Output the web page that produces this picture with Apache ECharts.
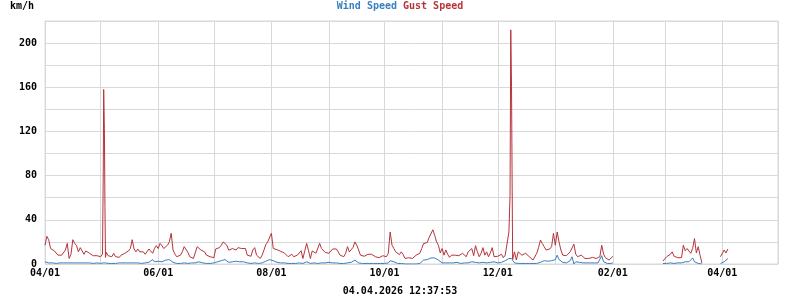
<!DOCTYPE html>
<html>
<head>
<meta charset="utf-8">
<script src="https://cdn.jsdelivr.net/npm/echarts@6/dist/echarts.min.js"></script>
<style>html,body{margin:0;padding:0;background:#fff}#c{width:800px;height:300px}</style>
</head>
<body>
<div id="c"></div>
<script>
// Daily values starting 2025-04-01 (index = day offset)
const startDate = [2025, 3, 1];
const gust = [
17,25,22,14,13.6,12,10.6,8,9.7,8,
9.7,12.7,18.7,5,8.8,22,18.7,16.6,11,14.8,
15.7,8.8,11.8,13.6,9.7,11,7.5,8.8,7.5,5.7,
6.6,9,123,10.6,7.5,8,6.6,9.7,6.6,8,
6,8,6.6,9.7,8.8,11.8,14,22,13.6,11,
13.6,11,12.7,11,8.8,10.6,13.6,12,9.7,14,
16.6,14,18.7,16.6,14,15.7,17,20,27.8,12.7,
9,6.6,5,8,11,15.7,15.7,10.6,6.6,5.7,
5,6.6,15.7,16.6,12.7,14,11,8,6.6,6.6,
5.7,5.7,13.6,14,14.8,17,20,21.7,17,12.5,
11,14,13.2,12.7,14.8,14.8,14,12.7,14,8,
9.7,7,12.7,14.8,8,6.6,5,8,12.7,17.5,
20,18.5,27.8,14,13.6,13,12.5,11.5,11,10,
8.5,6.6,7.5,8.8,6.6,6.6,8,10,12,5,
12,18.7,12,5,11.8,13.6,9.7,8.8,18.7,14,
12.7,10.5,11,9.7,8.5,13.6,14,13.6,11,8,
6.6,6.6,9.7,15.7,11,12.7,15,20,17,12.7,
8,6.6,7,6.6,8.8,9.7,8.8,8.8,6.6,7.5,
5.7,6.6,7.5,6.6,6.6,9.7,29,17,14,11,
9.7,8.5,11,8.5,5,5,5.7,6.6,5,6.6,
8,6.6,9.7,14,18.5,18,19.5,24,23,31,
26,20,17,10,14,8,12.7,8.8,6,8,
6.6,8,8.8,7.5,6,9.7,8.8,6.6,11,10,
14,7.5,16.6,11,6.6,9.7,14.8,8,11,6.6,
10,14.8,6.6,7.5,7,6.6,8.8,5.7,8,9.7,
29,212,4,11,3.6,11,9.7,8,8.8,9.7,
9.7,6.6,8,3.6,5,9.7,15,21.7,18.5,15.7,
12.7,14,13.6,15.7,27.8,17,29,20,12.7,8,
6.6,7.5,8.8,11,12,18,9,6.6,7,8,
6.6,5,6.6,5,5.7,6,6.6,5,3.6,6.6,
17,9,5.7,4.5,3.6,5,7,
null,null,null,null,null,null,null,null,null,null,null,null,null,
null,null,null,null,null,null,null,null,null,null,null,null,null,
2.7,3.6,6.6,5.5,8.8,11,7,
6.6,5.7,6.6,5.7,17,12,14,15,9.7,14,
23,10,15.7,8,1,
null,null,null,null,null,null,null,null,null,
6.6,7,12.7,10,13.6
];
const wind = [
2,1.5,1,1,1,1,0.5,0.5,1,1,
1,1.5,1,0.5,1,1.5,1,1,1,1.5,
1,1,1,0.5,1,1,0.5,0.5,1,0.5,
0.5,1,1.5,1,0.5,1,0.5,1,0.5,1,
1,0.5,1,1,1,1.5,1,1.5,1,1,
1,1,0.5,1,1,1,1.5,3,4,2,
2,2.5,3,2,2.5,3.5,4,4,4,1.5,
1,0.5,0.5,0.5,1,1,1,0.5,1,1,
1,1,1.5,2,1.5,1,0.5,0.5,0.5,0.5,
0.5,1,1.5,2,2.5,3,3.5,4,2.5,1.5,
1.5,2,2.5,2.5,2.5,2,2.5,2,1.5,1,
1,0.5,1,1,0.5,0.5,0.5,1,1.5,2.5,
3.5,4,5,3,2,1.5,1,1,1,1,
0.5,0.5,0.5,0.5,0.5,0.5,0.5,1,1,0.5,
1,2,1,0.5,0.5,1,0.5,0.5,1.5,1,
1,1,1,1.5,1.5,1,1,1,0.5,0.5,
0.5,0.5,0.5,1,1,1.5,2.5,3.5,2,1,
0.5,0.5,0.5,0.5,0.5,0.5,0.5,0.5,0.5,0.5,
0.5,0.5,0.5,0.5,0.5,1,3,3.5,2,1,
0.5,0.5,0.5,0.5,0,0,0,0,0,0,
0,0,0.5,2,3.5,3.5,4,4.5,5.5,6.6,
5.5,4,3.5,2,1,1,1,1.5,1,0.5,
1,1,1.5,1,0.5,1,1,1.5,1,1.5,
2,1.5,1.5,1,1,1.5,1.5,2,1,1,
1.5,2,2,1.5,1,1,1.5,2,3,4,
5,5.7,4,1,0.5,0.5,0.5,0.5,0.5,0.5,
0.5,0.5,0.5,0.5,0.5,0.5,1,1.5,2.5,3,
2.5,2.5,3,3,3.5,4,8,4,2.5,1.5,
1,1,1.5,3,6.6,0,2,2,1.5,1,
1,1,1,1,1,1.5,1,0.5,1,2,
7.5,2,0.5,0.5,0.5,0.5,1,
null,null,null,null,null,null,null,null,null,null,null,null,null,
null,null,null,null,null,null,null,null,null,null,null,null,null,
0.5,0.5,0.5,0.5,1,1,0.5,
0.5,1,1,1,1.5,2,2,2,2,5.5,
2,0.5,0.5,0.5,0,
null,null,null,null,null,null,null,null,null,
0.5,1,2,3,5
];
// Extra sub-daily readings around the two storm spikes (day offsets)
const extraDays = [31.4, 31.62, 32.3, 32.6, 250.6, 251.4];
const extraGust = [85, 158, 52, 6, 62, 161];
const extraWind = [1, 1.5, 1.5, 1, 5.5, 5];

const yTicksLabelEvery = 40;
const titleText = 'km/h';
const stampText = '04.04.2026 12:37:53';

const DAY = 86400000;
const t0 = new Date(startDate[0], startDate[1], startDate[2]).getTime();
function build(daily, extra) {
  const pts = daily.map((v, i) => [t0 + i * DAY, v]);
  extraDays.forEach((d, i) => pts.push([t0 + d * DAY, extra[i]]));
  pts.sort((a, b) => a[0] - b[0]);
  return pts;
}
const FONT = '"DejaVu Sans Mono", monospace';
const BLUE = '#3a7fbf';
const RED = '#b5343c';
const chart = echarts.init(document.getElementById('c'), null, {renderer: 'canvas'});
chart.setOption({
  animation: false,
  backgroundColor: '#fff',
  grid: {left: 45, right: 22, top: 21, bottom: 36, show: true, borderColor: '#d9d9d9', borderWidth: 1},
  xAxis: {
    type: 'time',
    min: t0,
    max: new Date(2026, 4, 1).getTime(),
    minInterval: 28 * DAY,
    maxInterval: 31 * DAY,
    axisLine: {show: false},
    axisTick: {show: false},
    splitLine: {show: true, lineStyle: {color: '#d9d9d9', width: 1}},
    axisLabel: {
      margin: 4,
      fontFamily: FONT, fontWeight: 'bold', fontSize: 10, color: '#000',
      hideOverlap: false,
      formatter: function (val) {
        const d = new Date(val);
        const m = d.getMonth();
        if (d.getDate() !== 1 || m % 2 !== 1) return '';
        const mm = String(m + 1).padStart(2, '0');
        return mm + '/01';
      }
    }
  },
  yAxis: {
    type: 'value', min: 0, max: 220, interval: 20,
    axisLine: {show: false},
    axisTick: {show: false},
    splitLine: {show: true, lineStyle: {color: '#d9d9d9', width: 1}},
    axisLabel: {
      margin: 8,
      fontFamily: FONT, fontWeight: 'bold', fontSize: 10, color: '#000',
      formatter: function (v) { return v % yTicksLabelEvery === 0 ? String(v) : ''; }
    }
  },
  series: [
    {name: 'Gust Speed', type: 'line', data: build(gust, extraGust), showSymbol: false, symbol: 'none',
     connectNulls: false, lineStyle: {color: RED, width: 1}, itemStyle: {color: RED}},
    {name: 'Wind Speed', type: 'line', data: build(wind, extraWind), showSymbol: false, symbol: 'none',
     connectNulls: false, lineStyle: {color: BLUE, width: 1}, itemStyle: {color: BLUE}}
  ],
  graphic: [
    {type: 'text', x: 10, y: 6, style: {text: titleText, font: 'bold 10px ' + FONT, fill: '#000', verticalAlign: 'middle'}},
    {type: 'text', x: 400, y: 6, style: {
      text: '{a|Wind Speed} {b|Gust Speed}', align: 'center', verticalAlign: 'middle',
      font: 'bold 10px ' + FONT,
      rich: {a: {fill: BLUE, color: BLUE, fontFamily: FONT, fontWeight: 'bold', fontSize: 10},
             b: {fill: RED, color: RED, fontFamily: FONT, fontWeight: 'bold', fontSize: 10}}
    }},
    {type: 'text', x: 400, y: 291, style: {text: stampText, font: 'bold 10px ' + FONT, fill: '#000', align: 'center', verticalAlign: 'middle'}}
  ]
});
</script>
</body>
</html>
